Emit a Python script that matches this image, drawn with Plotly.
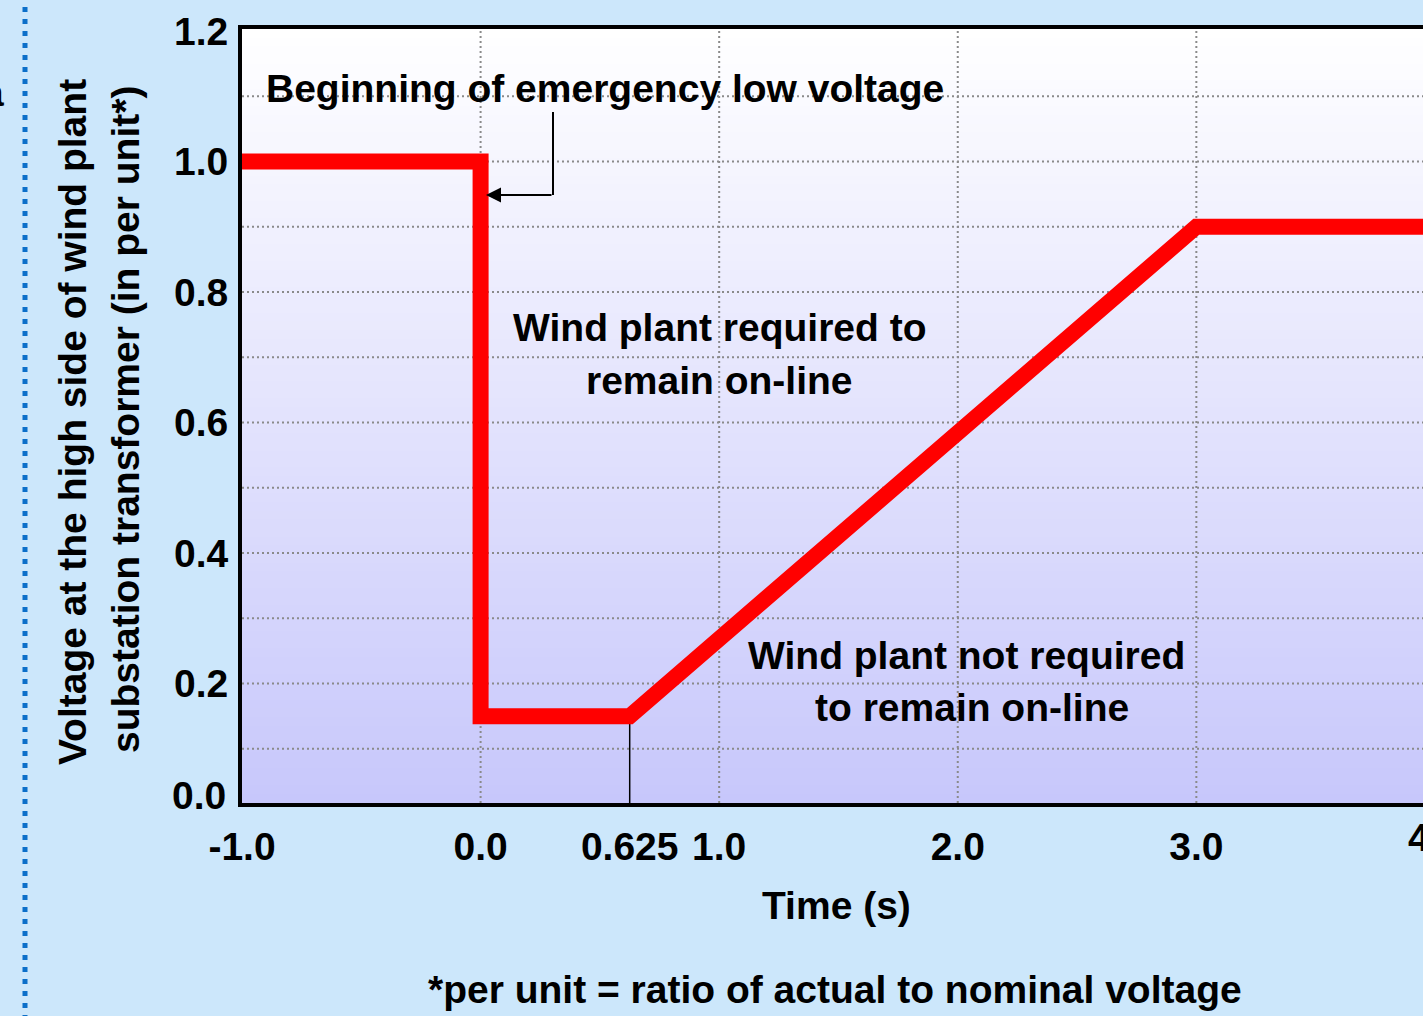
import plotly.graph_objects as go

# ---------------- data ----------------
curve_t = [-1.0, 0.0, 0.0, 0.625, 3.0, 4.0]          # time (s)
curve_v = [1.0, 1.0, 0.15, 0.15, 0.9, 0.9]          # voltage (per unit)

marker_t = [0.625, 0.625]                             # thin vertical marker
marker_v = [0.15, 0.0]

x_tick_vals = [-1.0, 0.0, 0.625, 1.0, 2.0, 3.0, 4.0]
x_tick_text = ["-1.0", "0.0", "0.625", "1.0", "2.0", "3.0", "4.0"]
y_tick_vals = [0.0, 0.2, 0.4, 0.6, 0.8, 1.0, 1.2]
y_tick_text = ["0.0", "0.2", "0.4", "0.6", "0.8", "1.0", "1.2"]
x_grid = [0.0, 1.0, 2.0, 3.0]
y_grid = [0.1, 0.2, 0.3, 0.4, 0.5, 0.6, 0.7, 0.8, 0.9, 1.0, 1.1]

X_RANGE = [-1.0, 3.95]
Y_RANGE = [0.017, 1.203]

# ---------------- layout geometry (pixels) ----------------
W, H = 1423, 1016
PL, PR, PT, PB = 242, 1423, 29, 803
FONT = "Liberation Sans, Arial, sans-serif"
FS = 39
BG = "#cce7fb"


def px(x):
    return (x - PL) / (PR - PL)


def py(y):
    return (PB - y) / (PB - PT)


fig = go.Figure()

fig.add_trace(go.Scatter(x=marker_t, y=marker_v, mode="lines",
                         line=dict(color="black", width=1.5), hoverinfo="skip"))
fig.add_trace(go.Scatter(x=curve_t, y=curve_v, mode="lines",
                         line=dict(color="#ff0000", width=16), hoverinfo="skip"))

shapes = []
# vertical gradient of the plotting area
N = 90
top = (255, 255, 255)
bot = (199, 199, 251)
for i in range(N):
    f = (i + 0.5) / N  # 0 at bottom, 1 at top
    c = tuple(round(bot[k] + (top[k] - bot[k]) * f) for k in range(3))
    shapes.append(dict(type="rect", xref="paper", yref="paper",
                       x0=0, x1=1, y0=i / N, y1=(i + 1) / N + 0.002,
                       fillcolor="rgb(%d,%d,%d)" % c, line=dict(width=0),
                       layer="below"))
# dotted grid
for g in x_grid:
    shapes.append(dict(type="line", xref="x", yref="paper", x0=g, x1=g, y0=0, y1=1,
                       line=dict(color="#8a8a8a", width=2, dash="2px,3px"),
                       layer="below"))
for g in y_grid:
    shapes.append(dict(type="line", xref="paper", yref="y", x0=0, x1=1, y0=g, y1=g,
                       line=dict(color="#8a8a8a", width=2, dash="2px,3px"),
                       layer="below"))
# elbow connector (vertical part)
shapes.append(dict(type="line", xref="paper", yref="paper",
                   x0=px(553), x1=px(553), y0=py(112), y1=py(195),
                   line=dict(color="black", width=2)))
# blue dotted separator at the far left
shapes.append(dict(type="line", xref="paper", yref="paper",
                   x0=px(25), x1=px(25), y0=py(-5), y1=py(1020),
                   line=dict(color="#0b6fc9", width=5, dash="5px,7px")))

tfont = dict(family=FONT, size=FS, color="black", weight="bold")

ann = []


def text(t, x, y, xa="center", ya="middle", angle=0):
    ann.append(dict(text=t, xref="paper", yref="paper", x=px(x), y=py(y),
                    xanchor=xa, yanchor=ya, showarrow=False, font=tfont,
                    textangle=angle))


text("Beginning of emergency low voltage", 605, 88)
text("Wind plant required to", 719, 327)
text("remain on-line", 719, 380)
text("Wind plant not required", 966, 655)
text("to remain on-line", 972, 707)
text("Time (s)", 836, 905)
text("*per unit = ratio of actual to nominal voltage", 835, 990)
text("Voltage at the high side of wind plant", 72, 422, angle=-90)
text("substation transformer (in per unit*)", 126, 420, angle=-90)
text("a", 6, 92, xa="right")

# tick labels falling outside the visible axis range
for v, t in zip(y_tick_vals, y_tick_text):
    if v < Y_RANGE[0]:
        text(t, 228, 795, xa="right")
for v, t in zip(x_tick_vals, x_tick_text):
    if v > X_RANGE[1]:
        xp = (v - X_RANGE[0]) / (X_RANGE[1] - X_RANGE[0])
        ann.append(dict(text=t, xref="paper", yref="paper", x=xp, y=0,
                        yanchor="top", xanchor="center", yshift=-11,
                        showarrow=False, font=tfont))

# arrow of the connector
ann.append(dict(text="", xref="paper", yref="paper", x=px(486), y=py(195),
                ax=553 - 486, ay=0, showarrow=True, arrowhead=2, arrowsize=1.5,
                arrowwidth=2, arrowcolor="black"))

fig.update_layout(
    width=W, height=H,
    margin=dict(l=PL, r=W - PR, t=PT, b=H - PB, pad=0),
    paper_bgcolor=BG, plot_bgcolor="white",
    showlegend=False,
    shapes=shapes, annotations=ann,
    xaxis=dict(range=X_RANGE, tickvals=x_tick_vals, ticktext=x_tick_text,
               showgrid=False, zeroline=False, showline=True, linewidth=4,
               linecolor="black", mirror=True, ticks="", tickfont=tfont,
               tickangle=0, ticklabelstandoff=6),
    yaxis=dict(range=Y_RANGE, tickvals=y_tick_vals, ticktext=y_tick_text,
               showgrid=False, zeroline=False, showline=True, linewidth=4,
               linecolor="black", mirror=False, ticks="", tickfont=tfont,
               ticklabelstandoff=2),
)

fig.write_html("out.html", config={"displayModeBar": False},
               post_script="document.body.style.margin='0';")
